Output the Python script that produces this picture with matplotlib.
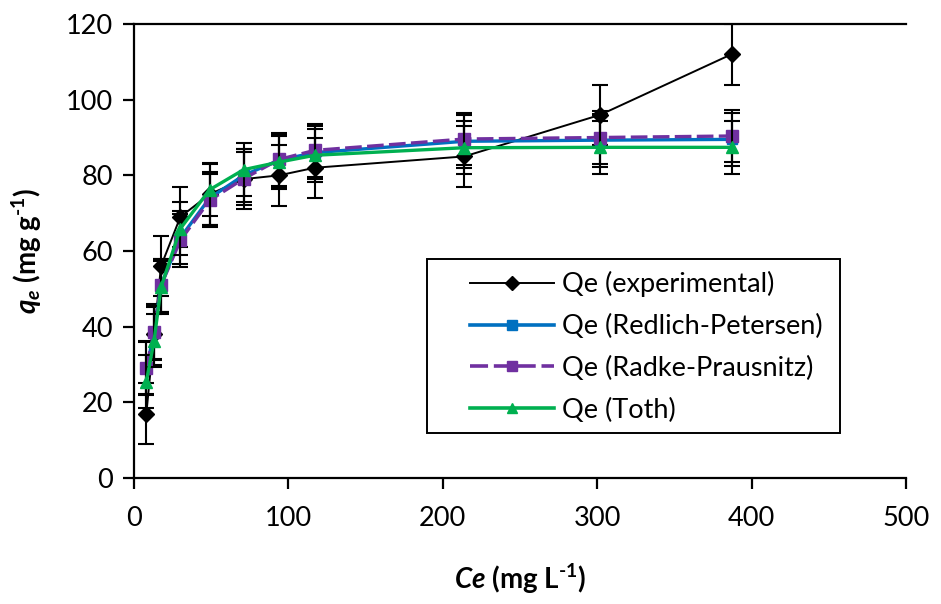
import matplotlib
matplotlib.use("Agg")
import matplotlib.pyplot as plt
from matplotlib.lines import Line2D
from matplotlib.patches import Rectangle

plt.rcParams["font.family"] = ["Lato", "DejaVu Sans"]
plt.rcParams["mathtext.fontset"] = "custom"
plt.rcParams["mathtext.rm"] = "Lato:bold"
plt.rcParams["mathtext.it"] = "Lato:bold:italic"
plt.rcParams["mathtext.bf"] = "Lato:bold"

# Equilibrium concentration (mg/L)
ce = [8, 13, 17.5, 30, 49, 71, 94, 117, 214, 302, 387]

# Adsorption capacity (mg/g)
qe_exp = [17, 38, 56, 69, 75, 79, 80, 82, 85, 96, 112]
qe_redlich = [29, 38.3, 51, 63.5, 74, 80, 84, 86, 89, 89.3, 89.5]
qe_radke = [29.2, 38.5, 50.9, 62.8, 73.4, 79.1, 84.2, 86.6, 89.6, 90.0, 90.4]
qe_toth = [25.5, 36.3, 50.4, 65.9, 76.2, 81.5, 83.5, 85.3, 87.3, 87.4, 87.4]

err_exp = [8] * len(ce)
err_model = [7] * len(ce)

labels = ["Qe (experimental)", "Qe (Redlich-Petersen)",
          "Qe (Radke-Prausnitz)", "Qe (Toth)"]

x_ticks = [0, 100, 200, 300, 400, 500]
y_ticks = [0, 20, 40, 60, 80, 100, 120]

W, H = 941, 604
fig = plt.figure(figsize=(W / 100, H / 100), dpi=100)
ax = fig.add_axes([134 / W, 1 - 478 / H, (906 - 134) / W, (478 - 24) / H])

eb_kw = dict(ecolor="black", elinewidth=1.5, capsize=5.5, capthick=1.5)

styles = [
    dict(color="black", lw=1.4, marker="D", ms=8, ls="-"),
    dict(color="#0070C0", lw=2.4, marker="s", ms=7, ls="-"),
    dict(color="#7030A0", lw=2.4, marker="s", ms=8.5, ls=(0, (5, 1.6))),
    dict(color="#00B050", lw=2.4, marker="^", ms=8, ls="-"),
]
series = [qe_exp, qe_redlich, qe_radke, qe_toth]
errors = [err_exp, err_model, err_model, err_model]

for i, (y, e, st) in enumerate(zip(series, errors, styles)):
    ax.errorbar(ce, y, yerr=e, color=st["color"], lw=st["lw"], ls=st["ls"],
                marker=st["marker"], ms=st["ms"], mfc=st["color"],
                mec=st["color"], zorder=3 + i, **eb_kw)

ax.set_xlim(0, 500)
ax.set_ylim(0, 120)
ax.set_xticks(x_ticks)
ax.set_yticks(y_ticks)

for side in ["left", "bottom", "top"]:
    ax.spines[side].set_linewidth(1.6)
    ax.spines[side].set_color("black")
ax.spines["right"].set_visible(False)

ax.tick_params(axis="both", direction="out", length=8, width=1.6,
               labelsize=19.5, colors="black")
ax.tick_params(axis="y", pad=7)
ax.tick_params(axis="x", pad=12)

ax.set_xlabel(r"$Ce$ (mg L$^{\text{-1}}$)", fontsize=20, fontweight="bold",
              labelpad=22)
ax.set_ylabel(r"$q_e$ (mg g$^{\text{-1}}$)", fontsize=20, fontweight="bold",
              labelpad=16)

# Legend: markers with lines (no error bars), inside a plain black box
handles = []
for st in styles:
    lw = 1.4 if st["color"] == "black" else 2.6
    ms = 7 if st["marker"] != "^" else 7.5
    handles.append(Line2D([], [], color=st["color"], lw=lw, ls=st["ls"],
                          marker=st["marker"], ms=ms, mfc=st["color"],
                          mec=st["color"]))

fig.patches.append(Rectangle((427 / W, 1 - 433 / H), (840 - 427) / W,
                             (433 - 259) / H, transform=fig.transFigure,
                             fill=True, facecolor="white", edgecolor="black",
                             lw=1.4, zorder=9))
leg = fig.legend(handles, labels, loc="upper left",
                 bbox_to_anchor=(470 / W, 1 - 271 / H),
                 bbox_transform=fig.transFigure,
                 fontsize=19.5, frameon=False, handlelength=3.1,
                 labelspacing=0.62, borderpad=0, handletextpad=0.3,
                 borderaxespad=0)
leg.set_zorder(10)

fig.savefig("out.png", dpi=100)
